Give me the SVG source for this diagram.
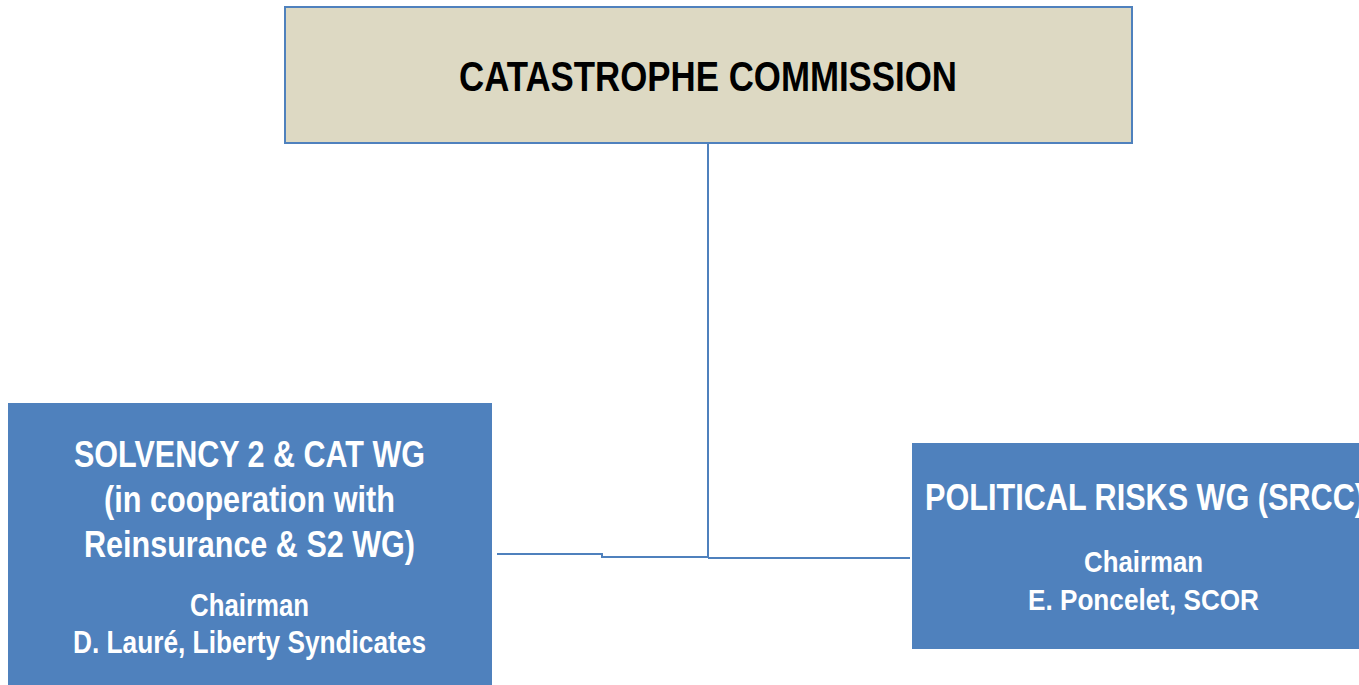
<svg xmlns="http://www.w3.org/2000/svg" width="1359" height="685" viewBox="0 0 1359 685">
  <style>
    .lbl { font-family: "Liberation Sans", Arial, sans-serif; font-weight: bold; }
    .dark { fill: #000000; }
    .light { fill: #ffffff; }
    .conn { fill: none; stroke: #4f81bd; stroke-width: 2; }
  </style>
  <rect width="1359" height="685" fill="#ffffff"/>

  <!-- connectors -->
  <g id="connectors">
    <path class="conn" d="M708,143 V558"/>
    <path class="conn" d="M497,554 H602 V557 H708"/>
    <path class="conn" d="M708,558 H910"/>
  </g>

  <!-- top commission node -->
  <g id="catastrophe-commission">
    <rect x="285" y="7" width="847" height="136" fill="#ddd9c3" stroke="#4f81bd" stroke-width="2"/>
    <text class="lbl dark" x="459" y="91" font-size="42" textLength="498" lengthAdjust="spacingAndGlyphs">CATASTROPHE COMMISSION</text>
  </g>

  <!-- left working group -->
  <g id="solvency-wg">
    <rect x="8" y="403" width="484" height="282" fill="#4f81bd"/>
    <text class="lbl light" x="74" y="467" font-size="36" textLength="351" lengthAdjust="spacingAndGlyphs">SOLVENCY 2 &amp; CAT WG</text>
    <text class="lbl light" x="104" y="512" font-size="36" textLength="291" lengthAdjust="spacingAndGlyphs">(in cooperation with</text>
    <text class="lbl light" x="84" y="557" font-size="36" textLength="331" lengthAdjust="spacingAndGlyphs">Reinsurance &amp; S2 WG)</text>
    <text class="lbl light" x="190" y="616" font-size="31" textLength="119" lengthAdjust="spacingAndGlyphs">Chairman</text>
    <text class="lbl light" x="73" y="653" font-size="31" textLength="353" lengthAdjust="spacingAndGlyphs">D. Lauré, Liberty Syndicates</text>
  </g>

  <!-- right working group -->
  <g id="political-risks-wg">
    <rect x="912" y="443" width="447" height="206" fill="#4f81bd"/>
    <text class="lbl light" x="925" y="510" font-size="37" textLength="440" lengthAdjust="spacingAndGlyphs">POLITICAL RISKS WG (SRCC)</text>
    <text class="lbl light" x="1084" y="572" font-size="30" textLength="119" lengthAdjust="spacingAndGlyphs">Chairman</text>
    <text class="lbl light" x="1028" y="610" font-size="30" textLength="231" lengthAdjust="spacingAndGlyphs">E. Poncelet, SCOR</text>
  </g>
</svg>
